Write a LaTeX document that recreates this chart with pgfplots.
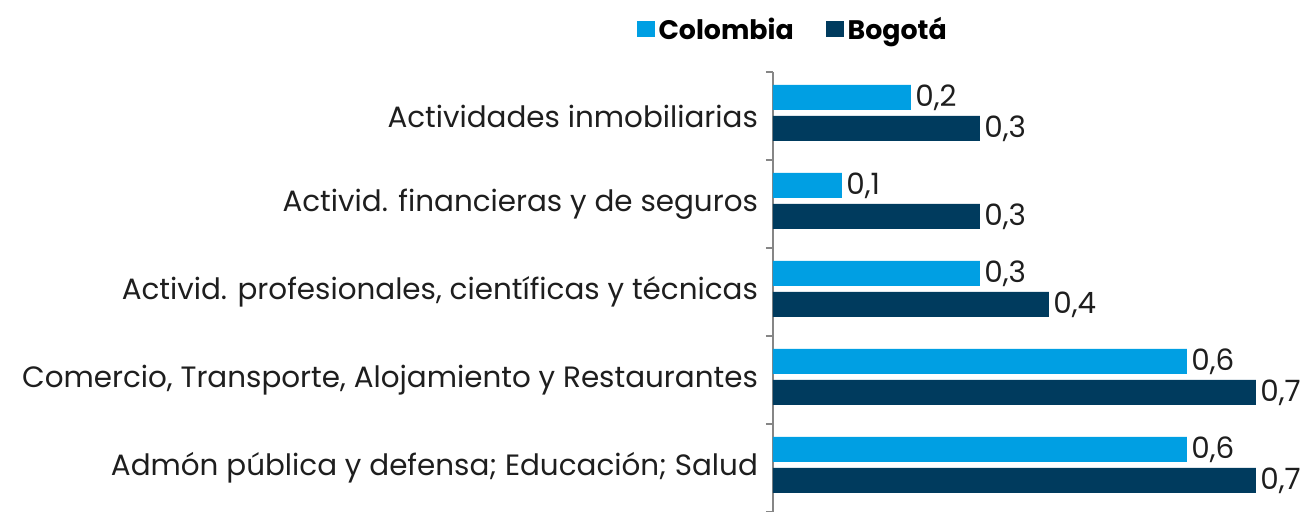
\documentclass[border=0pt]{standalone}
\usepackage{pgfplots}
\pgfplotsset{compat=1.18}
\usepackage{fontspec}
\setmainfont{Poppins}
\definecolor{colom}{RGB}{0 159 227}
\definecolor{bogo}{RGB}{0 59 94}
\definecolor{txt}{RGB}{30 30 30}
\definecolor{axgray}{RGB}{134 134 134}

\begin{document}
\begin{tikzpicture}[x=0.5pt,y=0.5pt]
% page = 1308 x 512 px, axis origin at px (773,512)
\useasboundingbox (-773,0) rectangle (535,512);
\begin{axis}[
    at={(0,0)}, anchor=south west,
    scale only axis,
    width=258.75pt, height=220pt,
    xbar,
    xmin=0, xmax=0.75,
    ymin=-0.5, ymax=4.5,
    bar width=0.284,
    axis x line=none,
    axis y line*=left,
    y axis line style={axgray, line width=1pt},
    ytick={0,1,2,3,4},
    yticklabels={Admón pública y defensa; Educación; Salud,
                 {Comercio, Transporte, Alojamiento y Restaurantes},
                 {Activid. profesionales, científicas y técnicas},
                 Activid. financieras y de seguros,
                 Actividades inmobiliarias},
    major tick length=0pt,
    minor ytick={-0.5,0.5,...,4.5},
    minor tick length=3.5pt,
    tick align=outside,
    minor tick style={axgray, line width=1pt},
    yticklabel style={font=\fontsize{14.7}{18}\selectfont, color=txt, xshift=-4pt},
    nodes near coords,
    nodes near coords style={font=\fontsize{14.7}{18}\selectfont, color=txt, inner sep=2pt},
    /pgf/number format/.cd, use comma, fixed, precision=1, assume math mode=true,
    /pgfplots/.cd,
    clip=false,
    legend style={at={(0.04,1.095)}, anchor=center, draw=none, fill=none,
        legend columns=2, font=\fontsize{13.4}{16}\selectfont\bfseries,
        /tikz/every even column/.append style={column sep=14pt}},
    legend image code/.code={\fill[#1] (0pt,-3.5pt) rectangle (9pt,4.5pt);},
]
\addplot[fill=colom, draw=none, bar shift=0.211] coordinates {
    (0.6,0) (0.6,1) (0.3,2) (0.1,3) (0.2,4)};
\addplot[fill=bogo, draw=none, bar shift=-0.142] coordinates {
    (0.7,0) (0.7,1) (0.4,2) (0.3,3) (0.3,4)};
\legend{Colombia, Bogotá}
\end{axis}
\end{tikzpicture}
\end{document}
